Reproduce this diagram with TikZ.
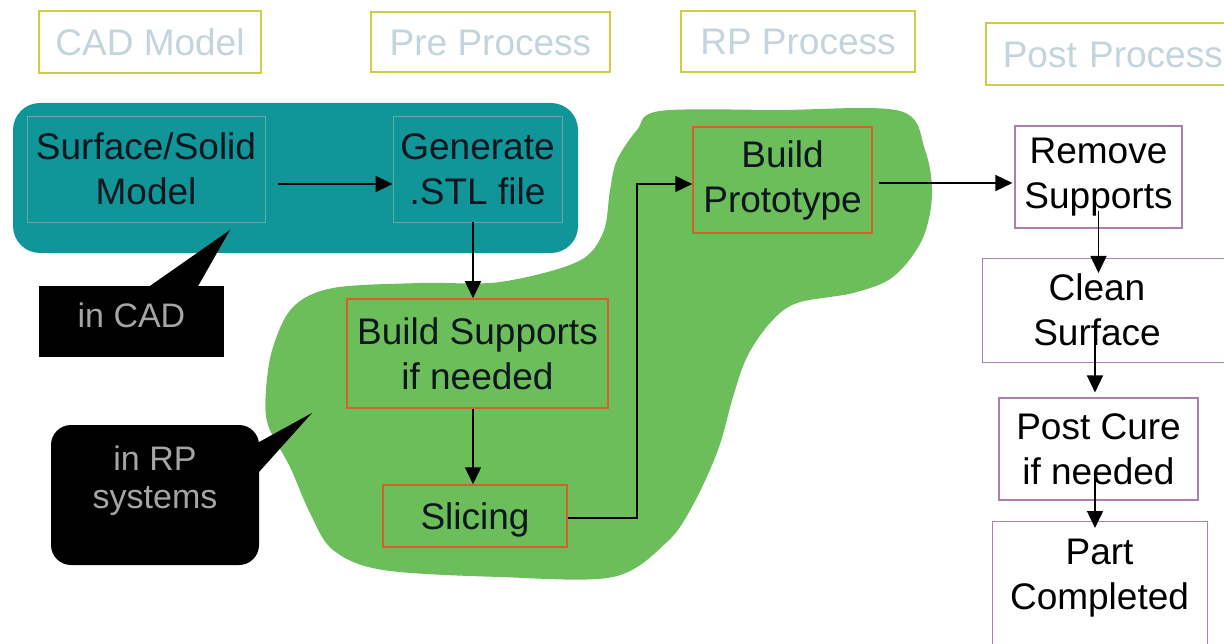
\documentclass[tikz,border=0pt]{standalone}
\usepackage{fontspec}
\setmainfont{Liberation Sans}
\usetikzlibrary{arrows.meta}
\definecolor{tealfill}{RGB}{16,150,152}
\definecolor{blobgreen}{RGB}{108,190,90}
\definecolor{orangeline}{RGB}{214,96,40}
\definecolor{purpleline}{RGB}{172,128,172}
\definecolor{hdrline}{RGB}{205,205,70}
\definecolor{hdrtext}{RGB}{196,212,220}
\definecolor{tealline}{RGB}{105,168,168}
\definecolor{darktext}{RGB}{12,22,30}
\definecolor{calltext}{RGB}{165,165,165}
\begin{document}
\begin{tikzpicture}[x=1pt,y=-1pt,
  every node/.style={font=\fontsize{37}{45}\selectfont, align=center, inner sep=0pt},
  hdr/.style={draw=hdrline, line width=1.5pt, text=hdrtext, fill=white, text height=27pt, text depth=0pt},
  cadbox/.style={draw=tealline, line width=0.8pt, text=darktext},
  rpbox/.style={draw=orangeline, line width=1.5pt, text=darktext},
  postbox/.style={draw=purpleline, line width=1.1pt, text=black},
  txt/.style={text=black},
  arr/.style={draw=black, line width=1.5pt, -{Triangle[length=17pt,width=16pt]}},
  conn/.style={draw=black, line width=1.5pt},
  callout/.style={fill=black, text=calltext, font=\fontsize{34}{38}\selectfont},
  calltxt/.style={text=calltext, font=\fontsize{34}{38}\selectfont}
]
\useasboundingbox (0,0) rectangle (1224,644);
\clip (0,0) rectangle (1224,644);

% headers
\node[hdr, minimum width=222pt, minimum height=62pt] (hcad) at (150,42) {CAD Model};
\node[hdr, minimum width=239pt, minimum height=60pt] (hpre) at (490.5,42) {Pre Process};
\node[hdr, minimum width=234pt, minimum height=61pt] (hrp) at (798,41.5) {RP Process};
\node[hdr, anchor=west, text width=243pt, align=left, inner xsep=17pt, minimum height=62pt] (hpost) at (985,54) {Post Process};

% green blob
\fill[blobgreen] plot[smooth cycle, tension=0.55] coordinates {
  (660,111) (780,110) (900,111) (925,150) (932,195) (922,240) (893,277) (853,293)
  (797,303) (770,323) (747,357) (733,397) (718,450) (693,505) (667,542)
  (613,577) (500,577) (383,570) (333,550) (310,513) (290,467) (268,425)
  (266,390) (273,347) (293,307) (333,288) (420,283) (500,282) (577,262)
  (603,233) (610,190) (617,160) (637,130)};

% teal CAD area
\fill[tealfill, rounded corners=27pt] (13,103) rectangle (578,253);

% process boxes
\node[cadbox, minimum width=238pt, minimum height=106pt] (surf) at (146,169) {Surface/Solid\\Model};
\node[cadbox, minimum width=169pt, minimum height=106pt] (gen) at (477.5,169) {Generate\\.STL file};
\node[rpbox, minimum width=261pt, minimum height=109pt] (supp) at (477.5,353.5) {Build Supports\\if needed};
\node[rpbox, minimum width=184pt, minimum height=62pt, text height=27pt, text depth=0pt] (slice) at (475,516) {Slicing};
\node[rpbox, minimum width=179pt, minimum height=106pt] (proto) at (782.5,180) {Build\\Prototype};
\node[postbox, minimum width=167pt, minimum height=102pt] (remove) at (1098.5,177) {Remove\\Supports};
\node[postbox, minimum width=260pt, minimum height=104pt, anchor=north west] (cleanbox) at (982,258) {};
\node[txt] (clean) at (1097,310) {Clean\\Surface};
\node[postbox, minimum width=199pt, minimum height=102pt] (cure) at (1098.5,449) {Post Cure\\if needed};
\node[postbox, minimum width=215pt, minimum height=140pt, anchor=north west] (partbox) at (992,521) {};
\node[txt] (part) at (1099.5,578) {Part\\Completed};

% connectors
\draw[arr, shorten <=13pt] ([yshift=-15pt]surf.east) -- ([yshift=-15pt]gen.west);
\draw[arr] ([xshift=-4.5pt]gen.south) -- ([xshift=-4.5pt]supp.north);
\draw[arr] ([xshift=-4.5pt]supp.south) -- ([xshift=-2pt]slice.north);
\draw[arr] ([yshift=-2pt]slice.east) -- ++(69,0) |- ([yshift=-4pt]proto.west);
\coordinate (pe) at ([yshift=-3pt]proto.east);
\draw[arr, shorten <=6pt, shorten >=2pt] (pe) -- (pe -| remove.west);
\coordinate (rc) at ([yshift=18pt]remove.south);
\draw[arr, shorten >=-15pt] (rc) -- (rc |- cleanbox.north);
\coordinate (cc) at ([xshift=-3.5pt]cure.north);
\draw[arr, shorten <=-29pt, shorten >=5pt] (cc |- cleanbox.south) -- (cc);
\coordinate (cp) at ([xshift=-3.5pt]cure.south);
\draw[arr, shorten <=-28pt, shorten >=-7pt] (cp) -- (cp |- partbox.north);

% callouts
\fill[black] (147,288) -- (230,230) -- (197,288) -- cycle;
\node[callout, minimum width=185pt, minimum height=71pt, text height=25pt, text depth=12pt] (incad) at (131.5,321.5) {in CAD};
\fill[black] (250,447) -- (312,413) -- (250,482) -- cycle;
\node[callout, rounded corners=20pt, minimum width=208pt, minimum height=140pt] (inrp) at (155,495) {};
\node[calltxt] (inrptxt) at (155,481) {in RP\\systems};
\end{tikzpicture}
\end{document}
